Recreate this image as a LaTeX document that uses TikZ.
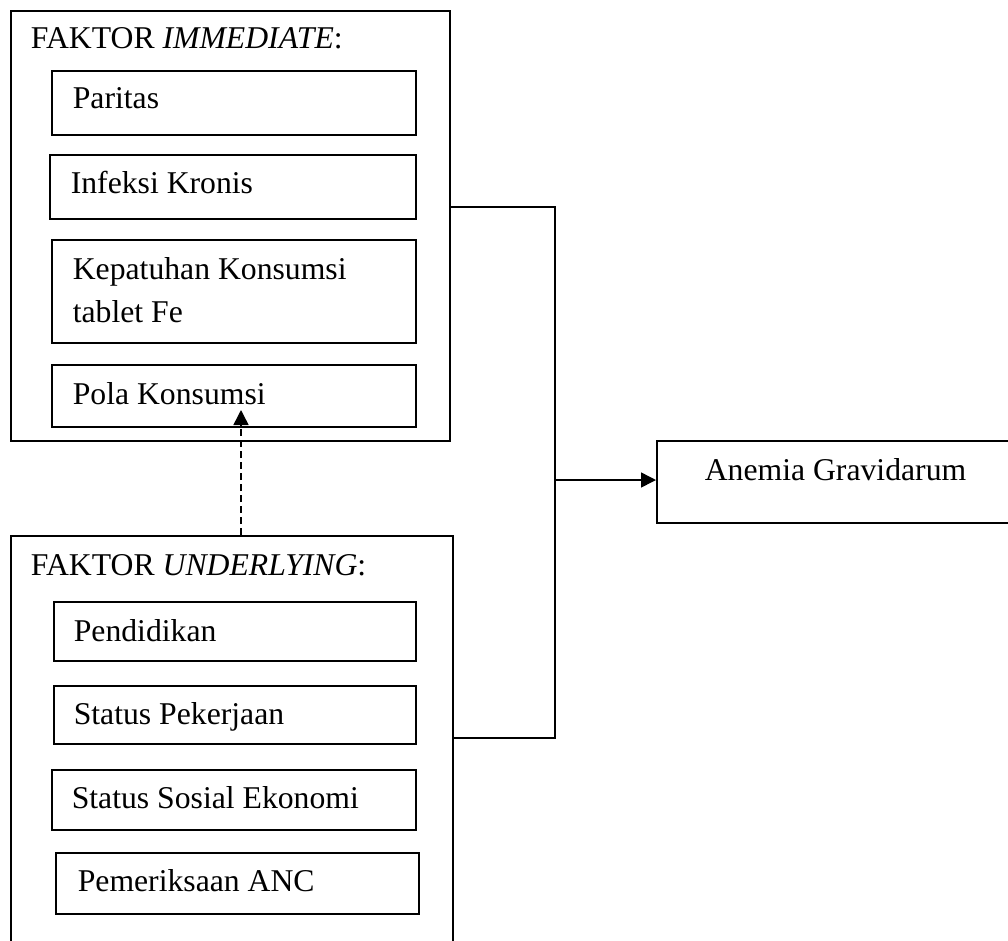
\documentclass[tikz,border=0pt]{standalone}
\usepackage{fontspec}
\setmainfont{Liberation Serif}
\usetikzlibrary{arrows.meta}
\begin{document}
\begin{tikzpicture}[x=1pt,y=-1pt,
  line width=1.6pt,
  bx/.style={draw=black, rectangle, inner sep=0pt, anchor=north west},
  txt/.style={inner sep=0pt, anchor=base west, font=\fontsize{31.7pt}{43pt}\selectfont},
  conn/.style={line width=1.5pt},
  dsh/.style={line width=1.5pt, dash pattern=on 7pt off 4pt, -{Triangle[length=15pt,width=15pt]}},
  arr/.style={line width=1.5pt, -{Triangle[length=15pt,width=15pt]}}]
\clip (0,0) rectangle (1008,940);
\fill[white] (0,0) rectangle (1008,940);
% outer boxes
\node[bx, minimum width=439pt, minimum height=430pt] (imm) at (10,10) {};
\node[bx, minimum width=442pt, minimum height=440pt] (und) at (10,535) {};
% immediate factors
\node[bx, minimum width=364pt, minimum height=64pt] (par) at (51,70) {};
\node[bx, minimum width=366pt, minimum height=64pt] (inf) at (49,154) {};
\node[bx, minimum width=364pt, minimum height=103pt] (kep) at (51,239) {};
\node[bx, minimum width=364pt, minimum height=62pt] (pola) at (51,364) {};
% underlying factors
\node[bx, minimum width=362pt, minimum height=59pt] (pend) at (53,601) {};
\node[bx, minimum width=362pt, minimum height=58pt] (kerja) at (53,685) {};
\node[bx, minimum width=364pt, minimum height=60pt] (sse) at (51,769) {};
\node[bx, minimum width=363pt, minimum height=61pt] (anc) at (55,852) {};
% outcome
\node[bx, minimum width=359pt, minimum height=82pt] (anem) at (656,440) {};
% texts
\node[txt] (timm) at (30,48) {FAKTOR \textit{IMMEDIATE}:};
\node[txt] (tpar) at (72,108) {Paritas};
\node[txt] (tinf) at (70,193) {Infeksi Kronis};
\node[txt] (tkep1) at (72,279) {Kepatuhan Konsumsi};
\node[txt] (tkep2) at (72,322) {tablet Fe};
\node[txt] (tpola) at (72,404) {Pola Konsumsi};
\node[txt] (tund) at (30,575) {FAKTOR \textit{UNDERLYING}:};
\node[txt] (tpend) at (73,641) {Pendidikan};
\node[txt] (tkerja) at (73,724) {Status Pekerjaan};
\node[txt] (tsse) at (71,808) {Status Sosial Ekonomi};
\node[txt] (tanc) at (77,891) {Pemeriksaan ANC};
\node[txt] (tanem) at (704,480) {Anemia Gravidarum};
% connectors
\coordinate (c1) at (555,207);
\coordinate (c2) at (555,738);
\coordinate (j) at (555,480);
\coordinate (tip) at (241,410);
\draw[conn] (imm.east |- c1) -- (c1) -- (c2) -- (und.east |- c2);
\draw[arr] (j) -- (anem.west |- j);
\draw[dsh] (und.north -| tip) -- (tip);
\end{tikzpicture}
\end{document}
